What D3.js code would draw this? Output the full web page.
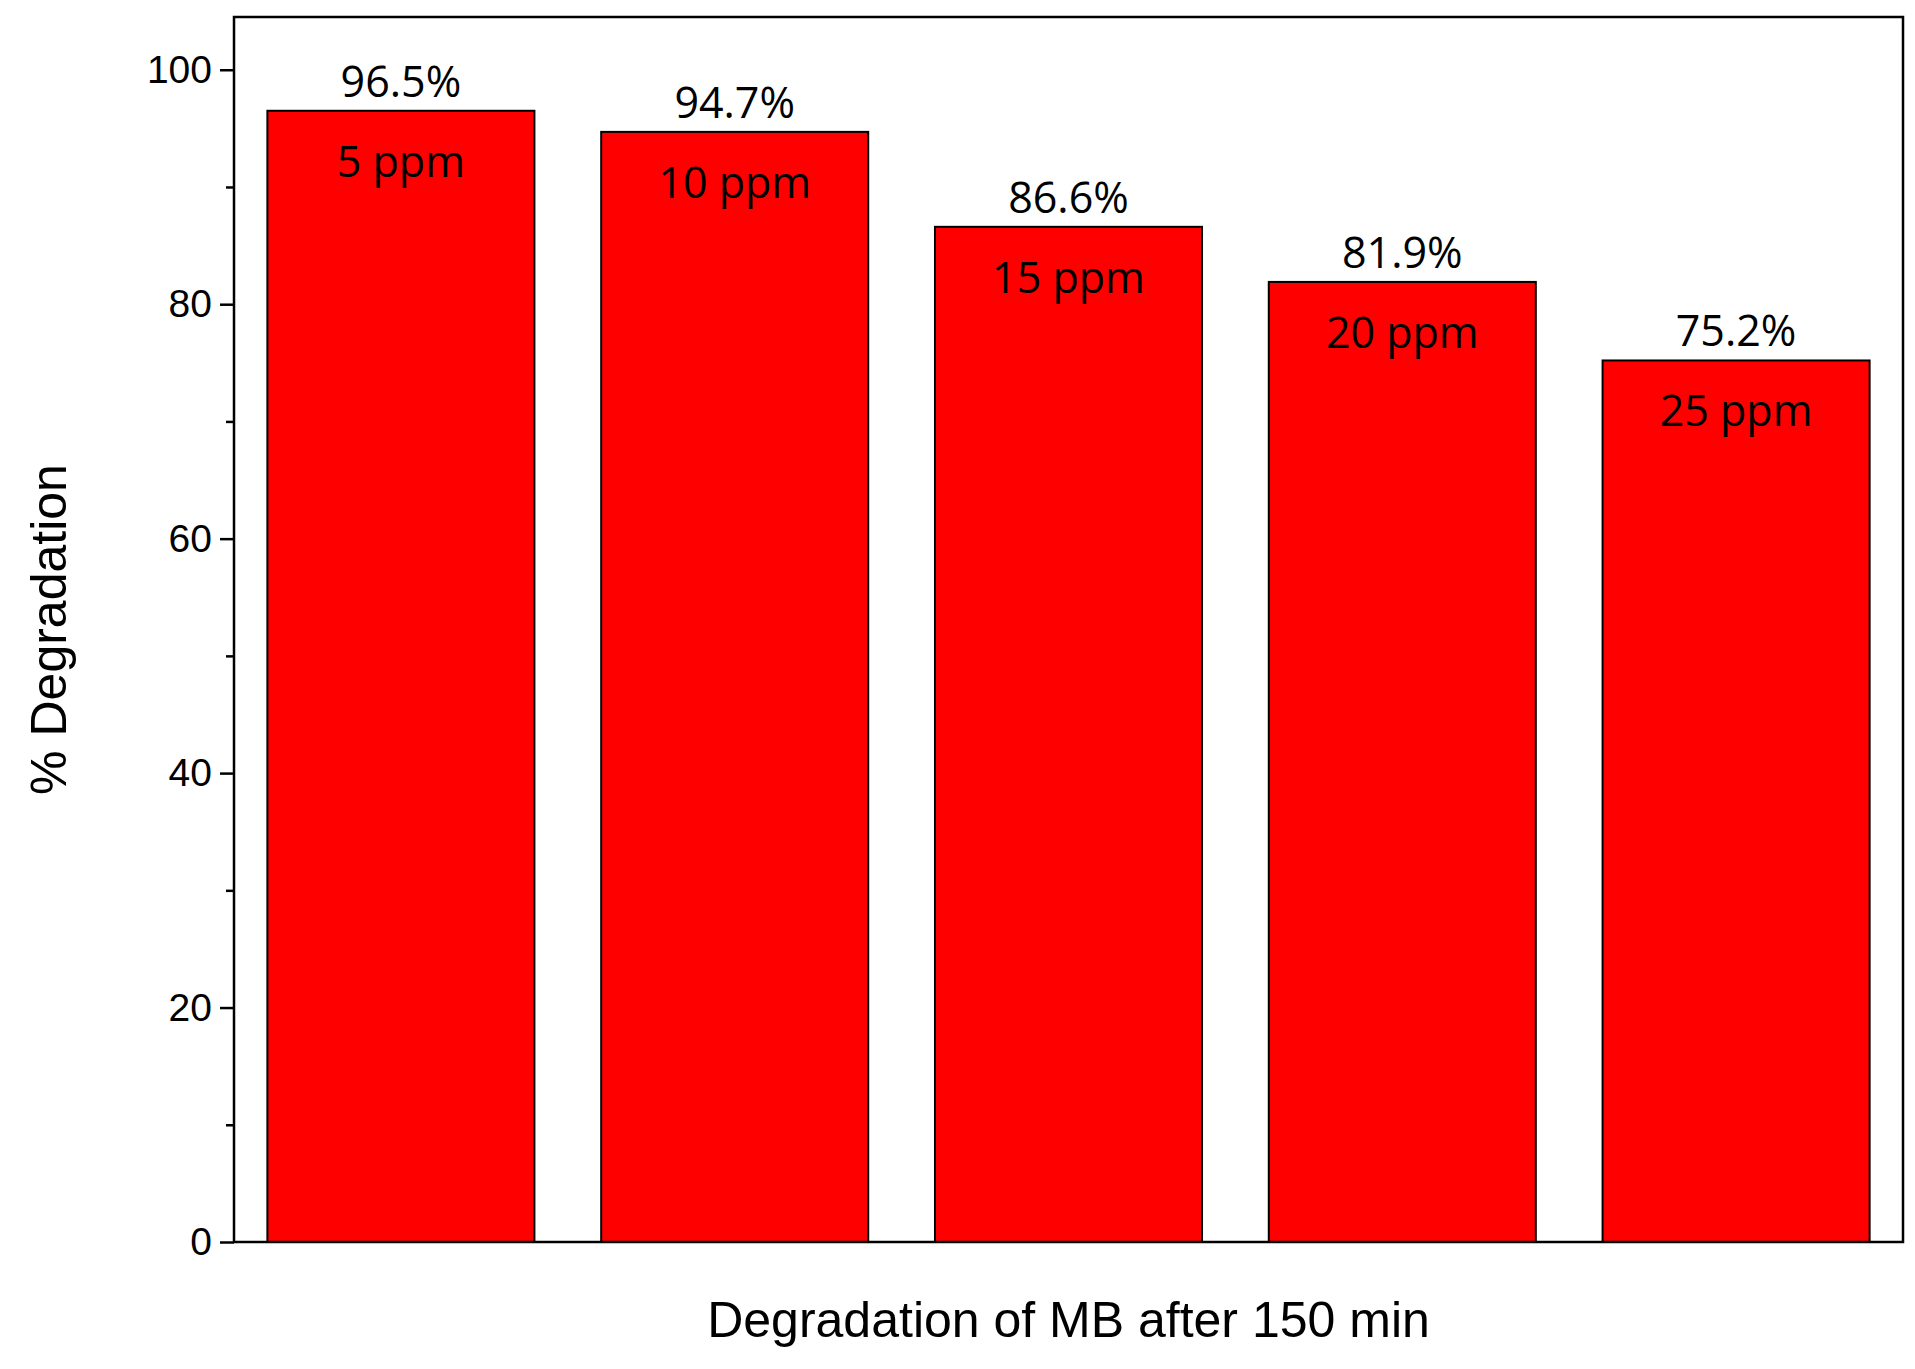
<!DOCTYPE html>
<html><head><meta charset="utf-8">
<script src="https://cdn.jsdelivr.net/npm/d3@7"></script>
<style>body{margin:0;background:#fff}</style>
</head><body>
<svg id="chart" width="1915" height="1369"></svg>
<script>
// chart data
const concentrations = ['5 ppm', '10 ppm', '15 ppm', '20 ppm', '25 ppm'];
const degradation = [96.5, 94.7, 86.6, 81.9, 75.2];
const yTicks = [0, 20, 40, 60, 80, 100];
const yMinor = [10, 30, 50, 70, 90];

const svg = d3.select('#chart');
const plotLeft = 234, plotRight = 1903, plotTop = 17, plotBottom = 1242;

const x = d3.scaleBand().domain(concentrations).range([plotLeft, plotRight])
    .paddingInner(0.2).paddingOuter(0.1);
const y = d3.scaleLinear().domain([0, 104.5]).range([plotBottom, plotTop]);

// bars
svg.selectAll('.bar').data(degradation).enter().append('rect')
    .attr('x', (d, i) => x(concentrations[i]))
    .attr('y', d => y(d))
    .attr('width', x.bandwidth())
    .attr('height', d => plotBottom - y(d))
    .attr('fill', '#ff0000').attr('stroke', '#000').attr('stroke-width', 2);

// value labels above bars
svg.selectAll('.val').data(degradation).enter().append('text')
    .attr('x', (d, i) => x(concentrations[i]) + x.bandwidth() / 2)
    .attr('y', d => y(d) - 14)
    .attr('text-anchor', 'middle')
    .attr('font-family', 'Open Sans, sans-serif').attr('font-size', 43)
    .text(d => d.toFixed(1) + '%');

// concentration labels inside bars
svg.selectAll('.cat').data(degradation).enter().append('text')
    .attr('x', (d, i) => x(concentrations[i]) + x.bandwidth() / 2)
    .attr('y', d => y(d) + 66)
    .attr('text-anchor', 'middle')
    .attr('font-family', 'Open Sans, sans-serif').attr('font-size', 43)
    .text((d, i) => concentrations[i]);

// frame
svg.append('rect').attr('x', plotLeft).attr('y', plotTop)
    .attr('width', plotRight - plotLeft).attr('height', plotBottom - plotTop)
    .attr('fill', 'none').attr('stroke', '#000').attr('stroke-width', 2.5);

// y axis
const yAxis = svg.append('g').attr('transform', `translate(${plotLeft},0)`)
    .call(d3.axisLeft(y).tickValues(yTicks).tickSize(14).tickPadding(8));
yAxis.select('.domain').remove();
yAxis.selectAll('line').attr('stroke-width', 2.5);
yAxis.selectAll('text').attr('font-family', 'Liberation Sans, Arial, sans-serif')
    .attr('font-size', 39).attr('fill', '#000');

const yMinorAxis = svg.append('g').attr('transform', `translate(${plotLeft},0)`)
    .call(d3.axisLeft(y).tickValues(yMinor).tickSize(8).tickFormat(''));
yMinorAxis.select('.domain').remove();
yMinorAxis.selectAll('line').attr('stroke-width', 2.5);

// axis titles
svg.append('text')
    .attr('transform', `translate(66,${(plotTop + plotBottom) / 2}) rotate(-90)`)
    .attr('text-anchor', 'middle')
    .attr('font-family', 'Liberation Sans, Arial, sans-serif').attr('font-size', 50)
    .text('% Degradation');

svg.append('text')
    .attr('x', (plotLeft + plotRight) / 2).attr('y', 1337)
    .attr('text-anchor', 'middle')
    .attr('font-family', 'Liberation Sans, Arial, sans-serif').attr('font-size', 50)
    .text('Degradation of MB after 150 min');
</script>
</body></html>
